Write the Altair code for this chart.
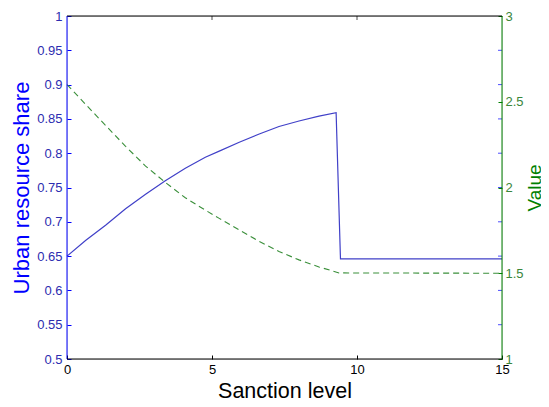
import altair as alt
import pandas as pd

# ---- data ----
blue_x = [0, 0.65, 1.33, 2.02, 2.71, 3.39, 4.08, 4.77, 5.25, 5.94, 6.63, 7.31, 8.0, 8.69, 9.28, 9.43, 15]
blue_y = [0.650, 0.673, 0.695, 0.719, 0.740, 0.760, 0.778, 0.794, 0.803, 0.816, 0.828, 0.839, 0.847, 0.854, 0.859, 0.646, 0.646]

green_x = [0, 1.10, 2.02, 2.71, 3.39, 4.08, 4.77, 5.25, 5.94, 6.63, 7.31, 8.00, 8.69, 9.38, 15]
green_y = [2.600, 2.403, 2.240, 2.125, 2.030, 1.940, 1.868, 1.820, 1.752, 1.686, 1.627, 1.578, 1.537, 1.502, 1.500]

x_ticks = [0, 5, 10, 15]
left_ticks = [0.5, 0.55, 0.6, 0.65, 0.7, 0.75, 0.8, 0.85, 0.9, 0.95, 1.0]
right_ticks = [1, 1.5, 2, 2.5, 3]

W, H = 435, 343
FONT = "Liberation Sans"
BLUE = "#0000ff"
BLUE_LINE = "#4040c8"
BLUE_LABEL = "#2c2cb0"
GREEN = "#008000"
GREEN_LINE = "#3a8f3a"
GREEN_LABEL = "#3a863a"

blue_df = pd.DataFrame({"x": blue_x, "y": blue_y})
green_df = pd.DataFrame({"x": green_x, "v": green_y})
ltick_df = pd.DataFrame({"y": left_ticks[1:-1]})
xtick_df = pd.DataFrame({"x": x_ticks[1:-1]})
one = pd.DataFrame({"a": [0]})

xscale = alt.Scale(domain=[0, 15], nice=False, zero=False)
lscale = alt.Scale(domain=[0.5, 1], nice=False, zero=False)
rscale = alt.Scale(domain=[1, 3], nice=False, zero=False)

x_axis = alt.Axis(
    orient="bottom", values=x_ticks, format="~g", offset=-4, tickSize=4,
    domain=False, grid=False, tickColor="black", labelColor="black",
    labelFont=FONT, labelFontSize=13, labelPadding=4, labelFlush=False,
    title="Sanction level", titleFont=FONT, titleFontSize=21.5,
    titleFontWeight="normal", titleColor="black", titlePadding=4,
)
left_axis = alt.Axis(
    orient="left", values=left_ticks, format="~g", offset=-4, tickSize=4,
    domain=False, grid=False, tickColor=BLUE, labelColor=BLUE_LABEL,
    labelFont=FONT, labelFontSize=13, labelPadding=5, labelFlush=False,
    labelOverlap=False,
    title="Urban resource share", titleFont=FONT, titleFontSize=22,
    titleFontWeight="normal", titleColor=BLUE, titlePadding=3,
)
right_axis = alt.Axis(
    orient="right", values=right_ticks, format="~g", offset=-4, tickSize=4,
    domain=False, grid=False, tickColor=GREEN, labelColor=GREEN_LABEL,
    labelFont=FONT, labelFontSize=13, labelPadding=3, labelFlush=False,
    labelOverlap=False,
    title="Value", titleFont=FONT, titleFontSize=19, titleFontWeight="normal",
    titleColor=GREEN, titleAngle=270, titleBaseline="top", titlePadding=2,
)

blue_line = alt.Chart(blue_df).mark_line(color=BLUE_LINE, strokeWidth=1.2).encode(
    x=alt.X("x:Q", scale=xscale, axis=x_axis),
    y=alt.Y("y:Q", scale=lscale, axis=left_axis),
)
blue_mirror = alt.Chart(ltick_df).mark_tick(color=BLUE, size=4, thickness=1).encode(
    x=alt.value(W - 2),
    y=alt.Y("y:Q", scale=lscale, axis=left_axis),
)
left_layer = alt.layer(blue_line, blue_mirror)

green_line = alt.Chart(green_df).mark_line(
    color=GREEN_LINE, strokeWidth=1.1, strokeDash=[6, 4]
).encode(
    x=alt.X("x:Q", scale=xscale, axis=x_axis),
    y=alt.Y("v:Q", scale=rscale, axis=right_axis),
)

top_ticks = alt.Chart(xtick_df).mark_tick(color="black", size=4, thickness=1).encode(
    x=alt.X("x:Q", scale=xscale, axis=x_axis),
    y=alt.value(2),
)

frame_left = alt.Chart(one).mark_rule(color=BLUE, strokeWidth=1).encode(
    x=alt.value(0), y=alt.value(0), y2=alt.value(H))
frame_right = alt.Chart(one).mark_rule(color=GREEN, strokeWidth=1).encode(
    x=alt.value(W), y=alt.value(0), y2=alt.value(H))
frame_top = alt.Chart(one).mark_rule(color="black", strokeWidth=1).encode(
    x=alt.value(0), x2=alt.value(W), y=alt.value(0))
frame_bottom = alt.Chart(one).mark_rule(color="black", strokeWidth=1).encode(
    x=alt.value(0), x2=alt.value(W), y=alt.value(H))

chart = alt.layer(
    left_layer, green_line, top_ticks,
    frame_left, frame_right, frame_top, frame_bottom,
).resolve_scale(y="independent").properties(
    width=W, height=H,
    autosize=alt.AutoSizeParams(type="none"),
    padding={"left": 59, "top": 8, "right": 39, "bottom": 40},
).configure_view(stroke=None).configure(background="white", font=FONT)

chart.save("out.html", embed_options={"renderer": "svg", "actions": False})
